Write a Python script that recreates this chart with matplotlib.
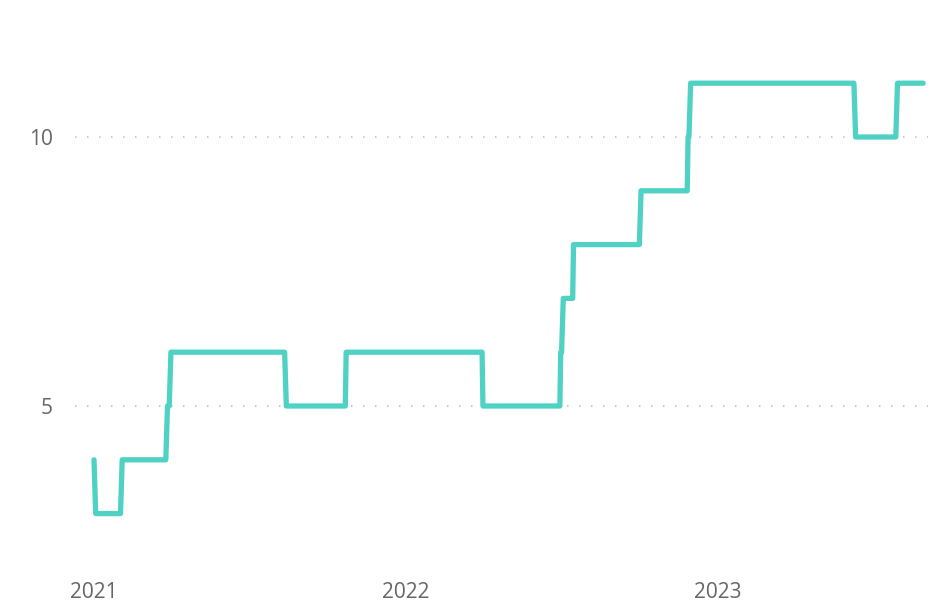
import matplotlib
matplotlib.use("Agg")
import matplotlib.pyplot as plt
import pandas as pd

# Data (change points of a step-like series)
dates = ["2021-01-01", "2021-01-03", "2021-02-01", "2021-02-03",
         "2021-03-26", "2021-03-28", "2021-03-30", "2021-04-01",
         "2021-08-12", "2021-08-14", "2021-10-22", "2021-10-23",
         "2022-03-31", "2022-04-01",
         "2022-06-30", "2022-07-01", "2022-07-02", "2022-07-04",
         "2022-07-15", "2022-07-16",
         "2022-10-01", "2022-10-03",
         "2022-11-26", "2022-11-27", "2022-11-28", "2022-11-30",
         "2023-06-09", "2023-06-11", "2023-07-28", "2023-07-30",
         "2023-08-29"]
values = [4, 3, 3, 4,
          4, 5, 5, 6,
          6, 5, 5, 6,
          6, 5,
          5, 6, 6, 7,
          7, 8,
          8, 9,
          9, 10, 10, 11,
          11, 10, 10, 11,
          11]
y_ticks = [5, 10]
x_tick_labels = ["2021", "2022", "2023"]

x = pd.to_datetime(dates)

W, H = 929, 604
fig = plt.figure(figsize=(W / 100, H / 100), dpi=100)
ax_left, ax_right, ax_top, ax_bottom = 75, 929, 20, 560
ax = fig.add_axes([ax_left / W, 1 - ax_bottom / H,
                   (ax_right - ax_left) / W, (ax_bottom - ax_top) / H])

ax.plot(x, values, color="#4FD1C4", linewidth=3.8,
        solid_joinstyle="round", solid_capstyle="round", zorder=3)

# axis limits
start = pd.Timestamp("2021-01-01")
px_per_day = 312 / 365
ax.set_xlim(start - pd.Timedelta(days=(94 - ax_left) / px_per_day),
            start + pd.Timedelta(days=(ax_right - 94) / px_per_day))
px_per_unit = (406 - 137) / 5
ax.set_ylim(10 - (ax_bottom - 137) / px_per_unit, 10 + (137 - ax_top) / px_per_unit)

ax.set_yticks(y_ticks)
ax.set_yticklabels([str(v) for v in y_ticks])
ax.set_xticks([pd.Timestamp(f"{y}-01-01") for y in x_tick_labels])
ax.set_xticklabels(x_tick_labels)

for s in ax.spines.values():
    s.set_visible(False)
ax.tick_params(axis="both", length=0, colors="#666666", labelsize=15)
ax.tick_params(axis="y", pad=16)
ax.tick_params(axis="x", pad=16)
for lab in ax.get_xticklabels() + ax.get_yticklabels():
    lab.set_fontfamily("Open Sans")

ax.yaxis.grid(True, color="#C8C8C8", linewidth=1.5, linestyle=(0, (0.7, 5.06)))
ax.xaxis.grid(False)
ax.set_axisbelow(True)

fig.savefig("out.png", dpi=100, facecolor="white")
